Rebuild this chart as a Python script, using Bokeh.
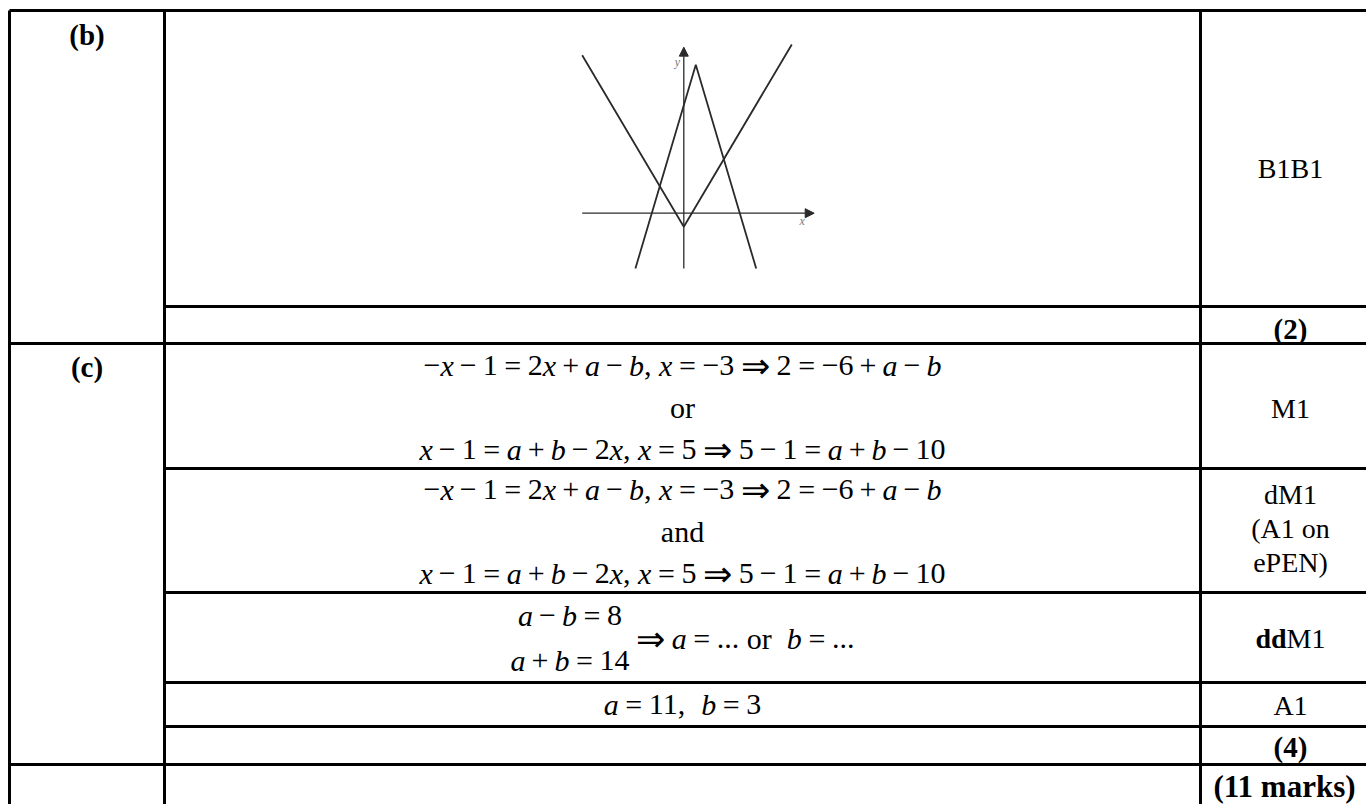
from bokeh.plotting import figure
from bokeh.models import Range1d, Arrow, NormalHead, ColumnDataSource
from bokeh.core.properties import value
from bokeh.embed import file_html
from bokeh.resources import INLINE

# ---------------- content of the table ----------------
part_labels = ["(b)", "(c)"]
marks_b = ["B1B1", "(2)"]
c_row1_lines = ["−x−1=2x+a−b, x=−3⇒2=−6+a−b", "or", "x−1=a+b−2x, x=5⇒5−1=a+b−10"]
c_row2_lines = ["−x−1=2x+a−b, x=−3⇒2=−6+a−b", "and", "x−1=a+b−2x, x=5⇒5−1=a+b−10"]
c_row3_stack = ["a−b=8", "a+b=14"]
c_row3_tail = "⇒a=... or  b=..."
c_row4_line = "a=11,  b=3"
marks_c_row1 = ["M1"]
marks_c_row2 = ["dM1", "(A1 on", "ePEN)"]
marks_c_row3 = [("dd", "bold"), ("M1", "normal")]
marks_c_row4 = ["A1"]
marks_c_total = ["(4)"]
total_label = ["(11 marks)"]

# ---------------- sketch (graph units) ----------------
v_x = [-12.7, 0.0, 13.5]        # y = |x| - 1
v_y = [11.7, -1.0, 12.5]
w_x = [-6.05, 1.5, 9.05]        # inverted V, peak (1.5, 11)
w_y = [-4.1, 11.0, -4.1]
axis_x_ext = [-12.7, 16.3]
axis_y_ext = [-4.1, 12.3]

# ---------------- layout (page pixels) ----------------
W, H = 1366, 804
XL, XD1, XD2, XR = 9, 164, 1200, 1380
YB = 830
h_lines = [(XL, 10), (XD1, 306), (XL, 343), (XD1, 468), (XD1, 592),
           (XD1, 682), (XD1, 726), (XL, 764)]
v_lines = [XL, XD1, XD2, XR]
C1 = (XL + XD1) / 2
C2 = (XD1 + XD2) / 2
C3 = (XD2 + XR) / 2
LBL = 28
BLD = 29
MTH = 30
ARROW_SCALE = 1.15
FONT = "Liberation Serif"
G_ORIGIN = (683.3, 212.7)
G_SCALE = (8.0, 13.5)
INK = "#2a2a2a"

p = figure(width=W, height=H, x_range=Range1d(0, W), y_range=Range1d(H, 0),
           x_axis_type=None, y_axis_type=None, toolbar_location=None,
           output_backend="svg", min_border=0, title=None,
           outline_line_color=None, background_fill_color="white",
           border_fill_color="white")

gx0 = -G_ORIGIN[0] / G_SCALE[0]
gy1 = G_ORIGIN[1] / G_SCALE[1]
p.extra_x_ranges = {"gx": Range1d(gx0, gx0 + W / G_SCALE[0])}
p.extra_y_ranges = {"gy": Range1d(gy1 - H / G_SCALE[1], gy1)}

# table rules
sx0 = [a for a, _ in h_lines] + v_lines
sy0 = [b for _, b in h_lines] + [10] * len(v_lines)
sx1 = [XR] * len(h_lines) + v_lines
sy1 = [b for _, b in h_lines] + [YB] * len(v_lines)
p.segment(sx0, sy0, sx1, sy1, line_color="black", line_width=3)

# ---------------- text helpers ----------------
ROMAN = {' ': .25, '(': .333, ')': .333, ',': .25, '.': .25, '=': .564, '+': .564,
         '−': .564, '⇒': .84, 'a': .444, 'n': .5, 'd': .5, 'o': .5, 'r': .333,
         'M': .889, 'A': .722, 'B': .667, 'e': .444, 'P': .556, 'E': .611, 'N': .722}
ITALIC = {'a': .5, 'b': .5, 'x': .444, 'y': .444}
BOLD = {'d': .556, 'M': .944, '1': .5}
PAD_REL, PAD_BIN = 0.22, 0.20

T = dict(x=[], y=[], text=[], style=[], size=[], align=[])


def put(x, y, s, style="normal", size=LBL, align="center"):
    T["x"].append(x); T["y"].append(y); T["text"].append(s)
    T["style"].append(style); T["size"].append(f"{size:.1f}px"); T["align"].append(align)


def wid(ch, table):
    if ch.isdigit():
        return 0.5
    return table.get(ch, 0.5)


def math_items(s):
    items = []
    prev = False
    i = 0
    while i < len(s):
        c = s[i]
        if c.isalpha():
            j = i
            while j < len(s) and s[j].isalpha():
                j += 1
            word = s[i:j]
            if len(word) == 1:
                items.append(("italic", word, wid(word, ITALIC), 1.0))
            else:
                items.append(("normal", word, sum(wid(ch, ROMAN) for ch in word), 1.0))
            prev = True
            i = j
            continue
        if c == "⇒":
            items += [("gap", "", PAD_REL, 1.0), ("arrow", c, ROMAN[c] * ARROW_SCALE, ARROW_SCALE),
                      ("gap", "", PAD_REL, 1.0)]
            prev = False
        elif c == "=":
            items += [("gap", "", PAD_REL, 1.0), ("normal", c, ROMAN[c], 1.0), ("gap", "", PAD_REL, 1.0)]
            prev = False
        elif c == "+" or (c == "−" and prev):
            items += [("gap", "", PAD_BIN, 1.0), ("normal", c, ROMAN[c], 1.0), ("gap", "", PAD_BIN, 1.0)]
            prev = False
        elif c == "−":
            items.append(("normal", c, ROMAN[c], 1.0))
            prev = False
        elif c == " ":
            items.append(("gap", "", ROMAN[" "], 1.0))
        else:
            items.append(("normal", c, wid(c, ROMAN), 1.0))
            prev = c.isdigit() or c == "."
        i += 1
    return items


def runs_of(items):
    runs = []
    x = 0.0
    joinable = False
    for kind, t, w, sc in items:
        if kind == "gap":
            x += w
            joinable = False
            continue
        if joinable and runs and runs[-1][2] == kind and kind != "arrow":
            runs[-1][1] += t
        else:
            runs.append([x, t, kind, sc])
        joinable = kind != "arrow"
        x += w
    return runs, x


def put_math(s, left=None, center=None, y=0, size=MTH):
    runs, total = runs_of(math_items(s))
    x0 = left if left is not None else center - total * size / 2
    for off, t, kind, sc in runs:
        style = "normal" if kind == "arrow" else kind
        put(x0 + off * size, y, t, style=style, size=size * sc, align="left")
    return total * size


def put_segments(segs, center, y, size=LBL):
    widths = [sum(wid(ch, BOLD if st == "bold" else ROMAN) for ch in t) * size for t, st in segs]
    x = center - sum(widths) / 2
    for (t, st), w in zip(segs, widths):
        put(x, y, t, style=st, size=size, align="left")
        x += w


# ---------------- left column ----------------
put(C1, 34, part_labels[0], style="bold", size=BLD)
put(C1, 366, part_labels[1], style="bold", size=BLD)

# ---------------- right column ----------------
put(C3, 168, marks_b[0])
put(C3, 328, marks_b[1], style="bold", size=BLD)
put(C3, 408, marks_c_row1[0])
for k, s in enumerate(marks_c_row2):
    put(C3, 494 + 34 * k, s)
put_segments(marks_c_row3, C3, 638)
put(C3, 705, marks_c_row4[0])
put(C3, 746, marks_c_total[0], style="bold", size=BLD)
put(C3 - 6, 786, total_label[0], style="bold", size=31)

# ---------------- middle column: working ----------------
for k, s in enumerate(c_row1_lines):
    put_math(s, center=C2, y=365 + 42 * k)
for k, s in enumerate(c_row2_lines):
    put_math(s, center=C2, y=489 + 42 * k)

stack_w = max(runs_of(math_items(s))[1] for s in c_row3_stack) * MTH
tail_w = runs_of(math_items(c_row3_tail))[1] * MTH
start = C2 - (stack_w + tail_w) / 2
for s, yy in zip(c_row3_stack, [615, 660]):
    put_math(s, center=start + stack_w / 2, y=yy)
put_math(c_row3_tail, left=start + stack_w, y=638)
put_math(c_row4_line, center=C2, y=704)

src = ColumnDataSource(T)
p.text(x="x", y="y", text="text", source=src, text_font=value(FONT),
       text_font_style="style", text_font_size="size", text_align="align",
       text_baseline="middle", text_color="black")

# ---------------- sketch ----------------
p.line(v_x, v_y, x_range_name="gx", y_range_name="gy", line_color=INK, line_width=1.8)
p.line(w_x, w_y, x_range_name="gx", y_range_name="gy", line_color=INK, line_width=1.8)
head_kw = dict(size=9, fill_color=INK, line_color=INK, line_width=1)
p.add_layout(Arrow(end=NormalHead(**head_kw), x_start=axis_x_ext[0], y_start=0,
                   x_end=axis_x_ext[1], y_end=0, x_range_name="gx", y_range_name="gy",
                   line_color=INK, line_width=1.3))
p.add_layout(Arrow(end=NormalHead(**head_kw), x_start=0, y_start=axis_y_ext[0],
                   x_end=0, y_end=axis_y_ext[1], x_range_name="gx", y_range_name="gy",
                   line_color=INK, line_width=1.3))
p.text(x=[-0.8, 14.8], y=[11.2, -0.55], text=["y", "x"], x_range_name="gx",
       y_range_name="gy", text_font=value(FONT), text_font_style="italic",
       text_font_size="12px", text_align="center", text_baseline="middle",
       text_color="#777777")

open("out.html", "w").write(file_html(p, INLINE))
